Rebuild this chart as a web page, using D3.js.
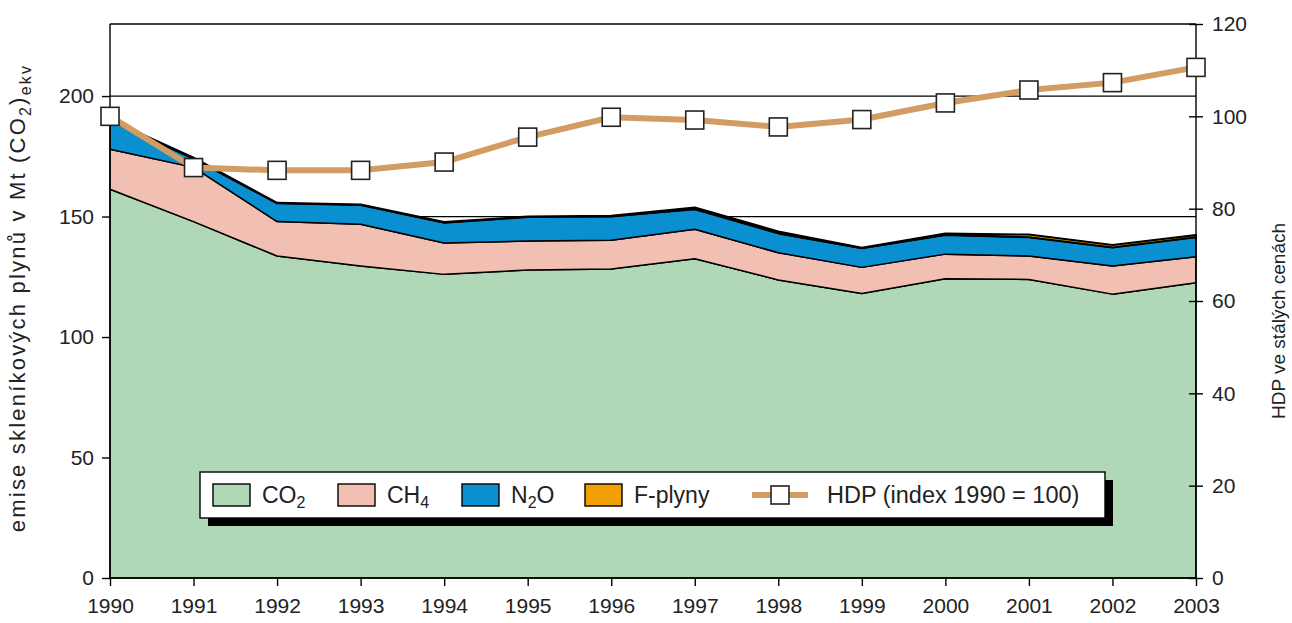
<!DOCTYPE html>
<html>
<head>
<meta charset="utf-8">
<script src="https://cdn.jsdelivr.net/npm/d3@7"></script>
<style>
  body { margin: 0; background: #fff; }
  text { font-family: "Liberation Sans", Arial, sans-serif; fill: #222; }
</style>
</head>
<body>
<div id="chart"></div>
<script>
// roky
const years = [1990, 1991, 1992, 1993, 1994, 1995, 1996, 1997, 1998, 1999, 2000, 2001, 2002, 2003]
// emise v Mt CO2 ekv
const co2 = [161.3, 147.9, 133.6, 129.5, 126.0, 127.8, 128.2, 132.5, 123.7, 118.1, 124.2, 123.9, 117.8, 122.5]
const ch4 = [16.6, 22.5, 14.3, 17.3, 13.0, 12.0, 12.0, 12.2, 11.3, 10.8, 10.2, 9.7, 11.7, 10.8]
const n2o = [12.0, 3.6, 7.6, 8.0, 8.4, 10.0, 9.8, 8.3, 8.0, 7.9, 7.9, 7.8, 7.7, 8.1]
const fgas = [0.3, 0.4, 0.2, 0.2, 0.3, 0.2, 0.3, 0.8, 0.8, 0.3, 0.7, 1.1, 1.0, 0.9]
// HDP index 1990 = 100
const hdp = [100, 88.9, 88.3, 88.3, 90.1, 95.5, 99.8, 99.2, 97.7, 99.3, 102.9, 105.7, 107.3, 110.6]

const leftTicks = [0, 50, 100, 150, 200]
const rightTicks = [0, 20, 40, 60, 80, 100, 120]
const gridValues = [150, 200]

const keys = ['co2', 'ch4', 'n2o', 'fgas']
const colors = { co2: '#b0d8b6', ch4: '#f1c0b2', n2o: '#0a90d0', fgas: '#f0a000' }

const width = 1292, height = 623
const margin = { top: 24, right: 96, bottom: 45, left: 110 }

const svg = d3.select('#chart').append('svg')
    .attr('width', width)
    .attr('height', height)

const x = d3.scaleLinear().domain([1990, 2003]).range([margin.left, width - margin.right])
const y = d3.scaleLinear().domain([0, 229.9]).range([height - margin.bottom, margin.top])
const y2 = d3.scaleLinear().domain([0, 120]).range([height - margin.bottom, margin.top])

const table = years.map((yr, i) => ({ year: yr, co2: co2[i], ch4: ch4[i], n2o: n2o[i], fgas: fgas[i] }))
const series = d3.stack().keys(keys)(table)

/* mrizka */
svg.append('g').selectAll('line')
    .data(gridValues)
    .enter()
    .append('line')
    .attr('x1', x(1990)).attr('x2', x(2003))
    .attr('y1', d => y(d)).attr('y2', d => y(d))
    .attr('stroke', '#000').attr('stroke-width', 1.3)

/* plochy */
const area = d3.area()
    .x(d => x(d.data.year))
    .y0(d => y(d[0]))
    .y1(d => y(d[1]))

svg.append('g').selectAll('path')
    .data(series)
    .enter()
    .append('path')
    .attr('d', area)
    .attr('fill', d => colors[d.key])
    .attr('stroke', '#000')
    .attr('stroke-width', d => d.key === 'fgas' ? 2 : 1.5)
    .attr('stroke-linejoin', 'round')

/* horni okraj */
svg.append('line')
    .attr('x1', x(1990)).attr('x2', x(2003))
    .attr('y1', margin.top).attr('y2', margin.top)
    .attr('stroke', '#000').attr('stroke-width', 1.3)

/* osy */
const axisL = svg.append('g')
    .attr('transform', `translate(${x(1990)},0)`)
    .call(d3.axisLeft(y).tickValues(leftTicks).tickSize(8).tickPadding(8))
axisL.select('.domain').attr('d', `M0,${y(0)}V${margin.top}`)

const axisR = svg.append('g')
    .attr('transform', `translate(${x(2003)},0)`)
    .call(d3.axisRight(y2).tickValues(rightTicks).tickSize(7).tickPadding(9))
axisR.select('.domain').attr('d', `M0,${y2(0)}V${margin.top}`)
axisR.selectAll('.tick line').attr('x1', -7)

const axisB = svg.append('g')
    .attr('transform', `translate(0,${y(0)})`)
    .call(d3.axisBottom(x).tickValues(years).tickFormat(d3.format('d')).tickSize(8).tickPadding(12))
axisB.select('.domain').attr('d', `M${x(1990)},0H${x(2003)}`)

svg.selectAll('.tick text').style('font-size', '21px').style('fill', '#222')
svg.selectAll('.domain, .tick line').attr('stroke', '#000').attr('stroke-width', 1.4)

/* HDP */
const line = d3.line()
    .x((d, i) => x(years[i]))
    .y(d => y2(d))

svg.append('path')
    .datum(hdp)
    .attr('d', line)
    .attr('fill', 'none')
    .attr('stroke', '#d39c62')
    .attr('stroke-width', 6)

svg.append('g').selectAll('rect')
    .data(hdp)
    .enter()
    .append('rect')
    .attr('x', (d, i) => x(years[i]) - 9)
    .attr('y', d => y2(d) - 9)
    .attr('width', 18).attr('height', 18)
    .attr('fill', '#fff')
    .attr('stroke', '#222')
    .attr('stroke-width', 1.6)

/* popisky os */
const tl = svg.append('text')
    .attr('transform', `translate(25,298) rotate(-90)`)
    .attr('text-anchor', 'middle')
    .style('font-size', '22px')
    .style('letter-spacing', '2.2px')
tl.append('tspan').text('emise skleníkových plynů v Mt (CO')
tl.append('tspan').text('2').attr('dy', 6).style('font-size', '16px')
tl.append('tspan').text(')').attr('dy', -6)
tl.append('tspan').text('ekv').attr('dy', 6).style('font-size', '16px')

svg.append('text')
    .attr('transform', `translate(1285,321) rotate(-90)`)
    .attr('text-anchor', 'middle')
    .style('font-size', '19px')
    .text('HDP ve stálých cenách')

/* legenda */
const leg = svg.append('g').attr('transform', 'translate(200,472)')
leg.append('rect').attr('x', 8).attr('y', 8).attr('width', 905).attr('height', 46).attr('fill', '#000')
leg.append('rect').attr('x', 0).attr('y', 0).attr('width', 905).attr('height', 46)
    .attr('fill', '#fff').attr('stroke', '#000').attr('stroke-width', 1.4)

const legItems = [
    { key: 'co2', x: 13, label: ['CO', '2', ''] },
    { key: 'ch4', x: 138, label: ['CH', '4', ''] },
    { key: 'n2o', x: 262, label: ['N', '2', 'O'] },
    { key: 'fgas', x: 385, label: ['F-plyny', '', ''] }
]
legItems.forEach(it => {
    leg.append('rect')
        .attr('x', it.x).attr('y', 12).attr('width', 37).attr('height', 22)
        .attr('fill', colors[it.key]).attr('stroke', '#000').attr('stroke-width', 1.4)
    const t = leg.append('text')
        .attr('x', it.x + 49).attr('y', 31)
        .style('font-size', '23px')
    t.append('tspan').text(it.label[0])
    if (it.label[1]) t.append('tspan').text(it.label[1]).attr('dy', 5).style('font-size', '16px')
    if (it.label[2]) t.append('tspan').text(it.label[2]).attr('dy', -5)
})
leg.append('line')
    .attr('x1', 552).attr('x2', 608).attr('y1', 23).attr('y2', 23)
    .attr('stroke', '#d39c62').attr('stroke-width', 6)
leg.append('rect')
    .attr('x', 571).attr('y', 14).attr('width', 18).attr('height', 18)
    .attr('fill', '#fff').attr('stroke', '#222').attr('stroke-width', 1.6)
leg.append('text')
    .attr('x', 627).attr('y', 31)
    .style('font-size', '23.5px')
    .text('HDP (index 1990 = 100)')
</script>
</body>
</html>
